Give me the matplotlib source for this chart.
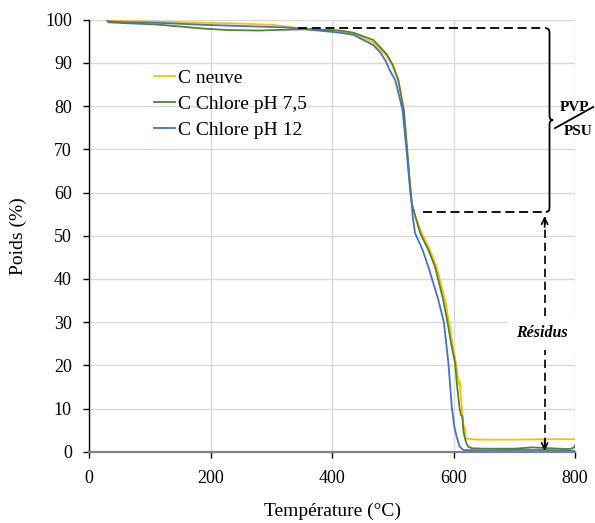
import matplotlib
matplotlib.use("Agg")
import matplotlib.pyplot as plt
from matplotlib.path import Path
from matplotlib.patches import PathPatch

plt.rcParams['font.family'] = ['Liberation Serif', 'DejaVu Serif']

# ---- data ----
series_names = ["C neuve", "C Chlore pH 7,5", "C Chlore pH 12"]
colors = ["#FFC000", "#548235", "#4472C4"]

t_neuve = [30, 100, 183, 250, 303, 349, 413, 435, 468, 490, 500, 509, 518, 524, 529.5, 531.5,
           537, 547.6, 561, 572, 586, 594, 598, 604, 608, 609.6, 610.4, 610.8, 613.5, 616, 618,
           618.8, 619.2, 620, 622, 640, 700, 750, 800]
w_neuve = [99.8, 99.6, 99.3, 99.1, 98.8, 98.0, 97.4, 96.7, 94.7, 91.6, 89.2, 86.0, 79.1, 69.1, 59.8, 57.3,
           54.5, 50.6, 46.7, 42.8, 35.1, 28.9, 25.0, 20.5, 16.5, 15.4, 16.0, 14.5, 10.4, 6.5, 5.0,
           5.6, 4.2, 3.4, 3.0, 2.8, 2.8, 2.9, 2.9]

t_ph75 = [30, 32, 60, 110, 193, 230, 280, 330, 360, 413, 435, 468, 490, 500, 509, 518, 524, 529.5,
          531.5, 537, 545, 558.5, 569.5, 583, 590, 596, 602.5, 606, 609.6, 612, 614, 615, 616, 618,
          621, 624, 630, 650, 700, 730, 760, 790, 798, 800]
w_ph75 = [100, 99.4, 99.2, 98.9, 97.9, 97.6, 97.5, 97.7, 97.8, 97.5, 97.0, 95.3, 92.0, 89.5, 86.0, 79.1, 69.1, 59.8,
          57.3, 54.5, 50.6, 46.7, 42.8, 35.1, 30.0, 25.0, 20.5, 15.0, 10.4, 8.5, 8.3, 7.2, 5.0, 3.5,
          2.0, 1.2, 0.8, 0.7, 0.7, 1.0, 0.8, 0.6, 0.9, 1.5]

t_ph12 = [30, 60, 110, 193, 260, 325, 370, 413, 435, 468, 480, 488, 495, 504, 516, 523, 529, 531,
          533, 536.6, 549, 558.5, 575, 584, 591.5, 597, 601, 605, 610, 616, 650, 700, 750, 800]
w_ph12 = [99.6, 99.4, 99.3, 98.8, 98.5, 98.2, 97.6, 97.0, 96.5, 94.1, 92.3, 90.5, 88.3, 86.0, 79.1, 69.1, 59.8, 57.5,
          54.0, 50.6, 46.7, 42.8, 35.1, 30.0, 20.5, 10.4, 6.0, 3.5, 1.2, 0.4, 0.3, 0.4, 0.4, 0.2]

x_ticks = [0, 200, 400, 600, 800]
y_ticks = [0, 10, 20, 30, 40, 50, 60, 70, 80, 90, 100]
x_label = "Température (°C)"
y_label = "Poids (%)"

# annotation levels
pvp_top = 98.0
pvp_bottom = 55.5
residue_level = 0.2

fig = plt.figure(figsize=(5.95, 5.23), dpi=100)
ax = fig.add_axes([0.150, 0.1363, 0.8164, 0.826])

for t, w, c, n in zip([t_neuve, t_ph75, t_ph12], [w_neuve, w_ph75, w_ph12], colors, series_names):
    ax.plot(t, w, color=c, lw=1.3, label=n, zorder=3)

ax.set_xlim(0, 800)
ax.set_ylim(0, 100)
ax.set_xticks(x_ticks)
ax.set_yticks(y_ticks)
ax.grid(True, color="#d9d9d9", lw=1.0, zorder=0)
ax.set_axisbelow(True)
for s in ["top", "right"]:
    ax.spines[s].set_visible(False)
ax.spines["left"].set_color("black")
ax.spines["left"].set_linewidth(1.0)
ax.spines["bottom"].set_color("#808080")
ax.spines["bottom"].set_linewidth(1.6)
ax.spines["bottom"].set_zorder(4)
ax.tick_params(axis="y", direction="out", length=4.5, width=1, color="black", labelsize=13, pad=8)
ax.tick_params(axis="x", direction="out", length=4.5, width=1, color="black", labelsize=13, pad=9)
ax.set_xlabel(x_label, fontsize=14, labelpad=11)
ax.set_ylabel(y_label, fontsize=14, labelpad=13)

leg = ax.legend(loc="upper left", bbox_to_anchor=(0.117, 0.903), frameon=False, fontsize=14,
                handlelength=1.1, handletextpad=0.12, labelspacing=0.42, borderaxespad=0)

# dashed level lines
ax.plot([344, 752], [pvp_top, pvp_top], color="black", lw=1.3, dashes=(5, 2.6), zorder=4)
ax.plot([550, 752], [pvp_bottom, pvp_bottom], color="black", lw=1.3, dashes=(5, 2.6), zorder=4)

# brace
xv, xt, xc = 758, 764, 752
ymid = (pvp_top + pvp_bottom) / 2
verts = [(xc, pvp_top), (xv, pvp_top), (xv, pvp_top - 1.0), (xv, ymid + 1.0),
         (xv, ymid), (xt, ymid), (xv, ymid), (xv, ymid - 1.0),
         (xv, pvp_bottom + 1.0), (xv, pvp_bottom), (xc, pvp_bottom)]
codes = [Path.MOVETO, Path.CURVE3, Path.CURVE3, Path.LINETO,
         Path.CURVE3, Path.CURVE3, Path.CURVE3, Path.CURVE3,
         Path.LINETO, Path.CURVE3, Path.CURVE3]
ax.add_patch(PathPatch(Path(verts, codes), fill=False, lw=1.3, color="black", clip_on=False, zorder=4))

# PVP / PSU label
ax.text(799, 79.7, "PVP", fontsize=11, fontweight="bold", ha="center", va="center", clip_on=False)
ax.text(805, 74.2, "PSU", fontsize=11, fontweight="bold", ha="center", va="center", clip_on=False)
ax.plot([767, 830], [74.9, 79.8], color="black", lw=1.3, clip_on=False)

# residue arrow
xa = 750
ax.plot([xa, xa], [residue_level + 1.2, pvp_bottom - 1.2], color="black", lw=1.2, dashes=(5, 2.8), zorder=4)
ax.annotate("", xy=(xa, pvp_bottom - 1.0), xytext=(xa, pvp_bottom - 3.5),
            arrowprops=dict(arrowstyle="->", lw=1.2, color="black", mutation_scale=11,
                            shrinkA=0, shrinkB=0), zorder=5)
ax.annotate("", xy=(xa, residue_level), xytext=(xa, residue_level + 2.5),
            arrowprops=dict(arrowstyle="->", lw=1.2, color="black", mutation_scale=11,
                            shrinkA=0, shrinkB=0), zorder=5)
ax.text(746, 27.5, "Résidus", fontsize=11.5, fontweight="bold", fontstyle="italic",
        ha="center", va="center", zorder=6, clip_on=False,
        bbox=dict(boxstyle="square,pad=0.55", fc="white", ec="none"))

fig.savefig("out.png", dpi=100)
